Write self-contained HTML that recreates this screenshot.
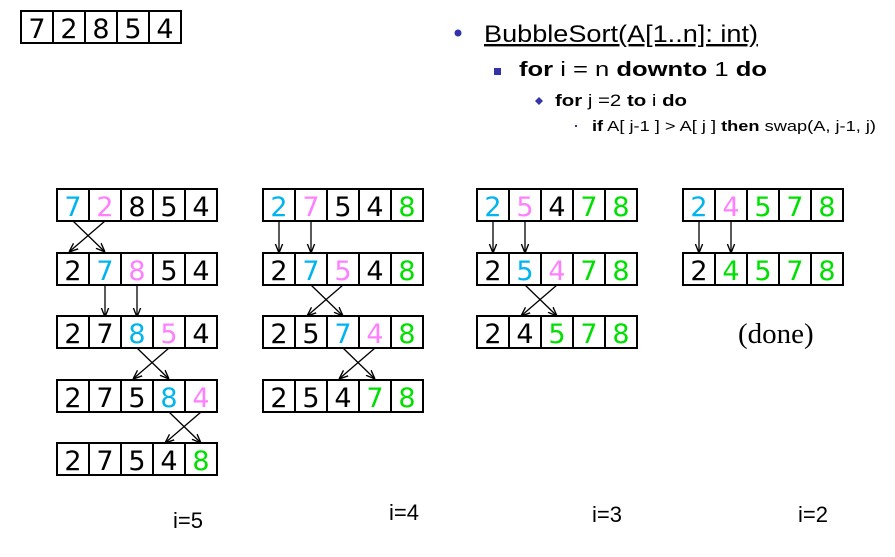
<!DOCTYPE html>
<html><head><meta charset="utf-8"><style>
html,body{margin:0;padding:0;background:#fff;width:895px;height:557px;overflow:hidden}
svg{display:block}
.d{font-family:"DejaVu Sans","Liberation Sans",sans-serif;font-size:27px;text-anchor:middle}
.l{font-family:"Liberation Sans",sans-serif;font-size:22px}
</style></head><body>
<svg id="s" width="895" height="557" xmlns="http://www.w3.org/2000/svg">
<defs><marker id="a" viewBox="0 0 10 10" refX="10" refY="5" markerWidth="7" markerHeight="7" orient="auto"><path d="M0,1 L10,5 L0,9" fill="none" stroke="#000" stroke-width="1.5"/></marker></defs>
<circle cx="458" cy="33" r="3.5" fill="#3333aa"/>
<text x="484" y="42" font-family="Liberation Sans, sans-serif" font-size="24" text-decoration="underline" textLength="274" lengthAdjust="spacingAndGlyphs">BubbleSort(A[1..n]: int)</text>
<rect x="494" y="68" width="7" height="7" fill="#3333aa"/>
<text x="519" y="76" font-family="Liberation Sans, sans-serif" font-size="20" textLength="248" lengthAdjust="spacingAndGlyphs"><tspan font-weight="bold">for</tspan> i = n <tspan font-weight="bold">downto</tspan> 1 <tspan font-weight="bold">do</tspan></text>
<path d="M539,97 l4,4 l-4,4 l-4,-4z" fill="#3333aa"/>
<text x="555" y="106" font-family="Liberation Sans, sans-serif" font-size="17" textLength="132" lengthAdjust="spacingAndGlyphs"><tspan font-weight="bold">for</tspan> j =2 <tspan font-weight="bold">to</tspan> i <tspan font-weight="bold">do</tspan></text>
<rect x="575" y="125" width="2" height="2" fill="#3333aa"/>
<text x="592" y="131" font-family="Liberation Sans, sans-serif" font-size="15" textLength="284" lengthAdjust="spacingAndGlyphs"><tspan font-weight="bold">if</tspan> A[ j-1 ] &gt; A[ j ] <tspan font-weight="bold">then</tspan> swap(A, j-1, j)</text>
<text x="738" y="343" font-family="Liberation Serif, serif" font-size="29">(done)</text>
<text class="l" x="173" y="528">i=5</text>
<text class="l" x="389" y="520">i=4</text>
<text class="l" x="592" y="522">i=3</text>
<text class="l" x="798" y="522">i=2</text>
</svg>
<script>
var s=document.getElementById('s'),NS='http://www.w3.org/2000/svg';
function el(t,a,txt){var e=document.createElementNS(NS,t);for(var k in a)e.setAttribute(k,a[k]);if(txt)e.textContent=txt;s.appendChild(e);}
var C={k:'#000',b:'#00b4f0',p:'#ff80ff',g:'#00e000'};
function arr(x,y,str){for(var i=0;i<5;i++){var d=str[2*i],c=str[2*i+1];
el('rect',{x:x+32*i,y:y,width:32,height:32,fill:'#fff',stroke:'#000','stroke-width':2});
el('text',{x:x+32*i+16,y:y+27,'class':'d',fill:C[c]},d);}}
function down(x,y,j){[j,j+1].forEach(function(k){var cx=x+32*k+16;el('line',{x1:cx,y1:y+32,x2:cx,y2:y+64,stroke:'#000','stroke-width':1.3,'marker-end':'url(#a)'});});}
function cross(x,y,j){var a=x+32*j+16,b=a+32;
el('line',{x1:a,y1:y+32,x2:b,y2:y+63,stroke:'#000','stroke-width':1.3,'marker-end':'url(#a)'});
el('line',{x1:b,y1:y+32,x2:a-4,y2:y+63,stroke:'#000','stroke-width':1.3,'marker-end':'url(#a)'});}
arr(21,11,'7k2k8k5k4k');
var R=[189,253,316,380,443];
var x=57;
arr(x,R[0],'7b2p8k5k4k');arr(x,R[1],'2k7b8p5k4k');arr(x,R[2],'2k7k8b5p4k');arr(x,R[3],'2k7k5k8b4p');arr(x,R[4],'2k7k5k4k8g');
cross(x,R[0],0);down(x,R[1],1);cross(x,R[2],2);cross(x,R[3],3);
x=263;
arr(x,R[0],'2b7p5k4k8g');arr(x,R[1],'2k7b5p4k8g');arr(x,R[2],'2k5k7b4p8g');arr(x,R[3],'2k5k4k7g8g');
down(x,R[0],0);cross(x,R[1],1);cross(x,R[2],2);
x=477;
arr(x,R[0],'2b5p4k7g8g');arr(x,R[1],'2k5b4p7g8g');arr(x,R[2],'2k4k5g7g8g');
down(x,R[0],0);cross(x,R[1],1);
x=683;
arr(x,R[0],'2b4p5g7g8g');arr(x,R[1],'2k4g5g7g8g');
down(x,R[0],0);
</script>
</body></html>
